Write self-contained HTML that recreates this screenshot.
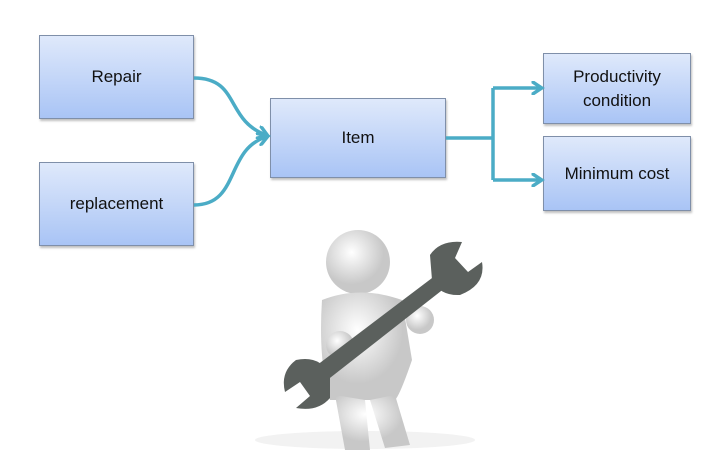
<!DOCTYPE html>
<html><head><style>
body{margin:0;width:720px;height:462px;background:#fff;overflow:hidden;position:relative;font-family:"Liberation Sans",sans-serif}
.b{position:absolute;box-sizing:border-box;border:1px solid #7f8fa9;background:linear-gradient(#dfe9fb,#a9c4f5);display:flex;align-items:center;justify-content:center;text-align:center;font-size:17px;color:#111;line-height:24px;box-shadow:1px 2px 2px rgba(0,0,0,.25)}
</style></head><body>
<div class="b" style="left:39px;top:35px;width:155px;height:84px">Repair</div>
<div class="b" style="left:39px;top:162px;width:155px;height:84px">replacement</div>
<div class="b" style="left:270px;top:98px;width:176px;height:80px">Item</div>
<div class="b" style="left:543px;top:53px;width:148px;height:71px">Productivity<br>condition</div>
<div class="b" style="left:543px;top:136px;width:148px;height:75px">Minimum cost</div>
<svg width="720" height="462" style="position:absolute;left:0;top:0">
<defs><marker id="a" markerWidth="4" markerHeight="4" refX="2.5" refY="2" orient="auto" markerUnits="strokeWidth"><path d="M0,0L3,2L0,4" fill="none" stroke="#4bacc6" stroke-width="1"/></marker>
<radialGradient id="g" cx="40%" cy="35%"><stop offset="0" stop-color="#fff"/><stop offset="1" stop-color="#c8c8c8"/></radialGradient></defs>
<g fill="none" stroke="#4bacc6" stroke-width="3.5">
<path d="M194,78 C240,78 225,120 266,135" marker-end="url(#a)"/>
<path d="M194,205 C240,205 225,150 266,137" marker-end="url(#a)"/>
<path d="M446,138 H493 M493,88 V180"/>
<path d="M493,88 H540" marker-end="url(#a)"/>
<path d="M493,180 H540" marker-end="url(#a)"/>
</g>
<ellipse cx="365" cy="440" rx="110" ry="9" fill="#f2f2f2"/>
<g fill="url(#g)">
<circle cx="358" cy="262" r="32"/>
<path d="M322,300 Q360,285 402,300 L412,360 Q400,395 395,400 L330,400 Q318,360 322,300z"/>
<path d="M335,395 L345,450 L370,450 L365,400z M370,400 L385,448 L410,445 L395,395z"/>
<circle cx="340" cy="345" r="14"/><circle cx="420" cy="320" r="14"/>
</g>
<g fill="#5b605d">
<path d="M300,378 L440,272 L450,284 L312,392z"/>
<path d="M430,255 Q440,240 462,242 L455,258 L468,272 L482,262 Q486,285 460,295 Q440,296 432,280z"/>
<path d="M330,375 Q320,355 296,360 Q280,372 285,392 L300,382 L310,396 L296,408 Q318,412 330,398z"/>
</g>
</svg>
</body></html>
